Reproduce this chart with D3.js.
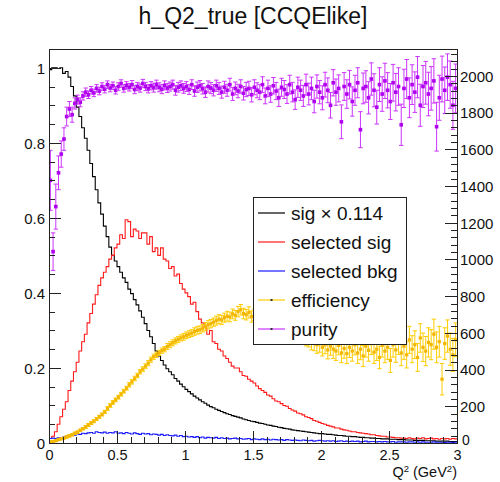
<!DOCTYPE html>
<html><head><meta charset="utf-8">
<script src="https://cdn.jsdelivr.net/npm/d3@7"></script>
<style>
body{margin:0;background:#fff}
svg{display:block}
text{font-family:"Liberation Sans",Arial,Helvetica,sans-serif;fill:#111}
</style>
</head><body>
<svg id="chart" width="500" height="482"></svg>
<script>
// ---------------- data ----------------
const titleText = "h_Q2_true [CCQElike]";
const nBins = 150, qMin = 0, qMax = 3;           // histogram binning in Q^2 (GeV^2)

const sigScaled = [
0.995,1.0,1.0,0.998,1.0,0.985,0.99,0.975,0.95,0.925,
0.895,0.87,0.84,0.812,0.78,0.745,0.71,0.675,0.64,0.61,
0.578,0.55,0.522,0.5,0.485,0.47,0.455,0.44,0.428,0.41,
0.398,0.382,0.368,0.352,0.335,0.318,0.3,0.283,0.265,0.245,
0.232,0.22,0.208,0.198,0.19,0.182,0.172,0.165,0.157,0.15,
0.143,0.137,0.131,0.125,0.12,0.115,0.11,0.106,0.101,0.097,
0.094,0.09,0.087,0.084,0.081,0.078,0.076,0.073,0.071,0.069,
0.067,0.064,0.062,0.06,0.058,0.057,0.055,0.053,0.052,0.05,
0.048,0.047,0.045,0.044,0.042,0.041,0.039,0.038,0.037,0.035,
0.034,0.033,0.032,0.031,0.03,0.029,0.028,0.027,0.026,0.025,
0.025,0.024,0.023,0.023,0.022,0.021,0.02,0.02,0.019,0.018,
0.018,0.017,0.017,0.016,0.015,0.015,0.014,0.014,0.013,0.013,
0.012,0.012,0.011,0.011,0.011,0.01,0.01,0.01,0.009,0.009,
0.009,0.008,0.008,0.008,0.007,0.007,0.007,0.007,0.006,0.006,
0.006,0.006,0.005,0.005,0.005,0.005,0.005,0.004,0.004,0.004];

const selectedSig = [
0.012,0.018,0.03,0.05,0.07,0.09,0.11,0.14,0.165,0.19,
0.215,0.245,0.27,0.29,0.32,0.345,0.37,0.395,0.42,0.44,
0.455,0.47,0.49,0.5,0.52,0.53,0.555,0.545,0.595,0.59,
0.55,0.57,0.565,0.545,0.56,0.56,0.53,0.55,0.51,0.52,
0.5,0.52,0.49,0.485,0.465,0.47,0.445,0.45,0.425,0.41,
0.4,0.39,0.37,0.375,0.35,0.33,0.32,0.31,0.29,0.3,
0.27,0.265,0.25,0.245,0.232,0.225,0.215,0.205,0.2,0.2,
0.19,0.18,0.178,0.17,0.165,0.16,0.152,0.145,0.14,0.135,
0.128,0.125,0.118,0.112,0.11,0.105,0.1,0.098,0.092,0.088,
0.085,0.08,0.078,0.075,0.07,0.068,0.065,0.06,0.058,0.055,
0.052,0.05,0.047,0.045,0.043,0.04,0.04,0.037,0.035,0.034,
0.032,0.03,0.03,0.028,0.027,0.026,0.025,0.024,0.022,0.022,
0.02,0.019,0.018,0.018,0.016,0.016,0.015,0.014,0.014,0.013,
0.013,0.012,0.014,0.012,0.011,0.013,0.012,0.014,0.011,0.012,
0.013,0.011,0.012,0.01,0.012,0.011,0.012,0.01,0.012,0.011];

const selectedBkg = [
0.012,0.013,0.012,0.014,0.013,0.016,0.018,0.02,0.022,0.021,
0.024,0.023,0.026,0.025,0.027,0.028,0.026,0.03,0.028,0.027,
0.029,0.026,0.028,0.027,0.03,0.026,0.027,0.025,0.028,0.026,
0.024,0.027,0.025,0.023,0.026,0.024,0.025,0.022,0.024,0.023,
0.021,0.023,0.02,0.022,0.02,0.019,0.021,0.018,0.02,0.017,
0.018,0.016,0.017,0.015,0.017,0.014,0.016,0.013,0.015,0.014,
0.013,0.015,0.012,0.014,0.012,0.013,0.011,0.012,0.013,0.011,
0.012,0.01,0.011,0.012,0.009,0.011,0.01,0.009,0.011,0.009,
0.01,0.008,0.01,0.009,0.008,0.009,0.007,0.009,0.008,0.007,
0.008,0.007,0.006,0.008,0.007,0.006,0.007,0.005,0.006,0.007,
0.006,0.005,0.006,0.005,0.006,0.004,0.005,0.006,0.004,0.005,
0.004,0.005,0.004,0.005,0.003,0.004,0.005,0.003,0.004,0.004,
0.003,0.004,0.003,0.004,0.003,0.003,0.004,0.002,0.003,0.003,
0.003,0.002,0.003,0.003,0.002,0.003,0.002,0.003,0.002,0.002,
0.002,0.003,0.002,0.002,0.002,0.001,0.002,0.002,0.001,0.002];

const efficiency = [
0.003,0.004,0.006,0.009,0.011,0.013,0.016,0.019,0.022,0.026,
0.029,0.034,0.038,0.043,0.048,0.053,0.058,0.064,0.07,0.076,
0.083,0.092,0.1,0.108,0.115,0.122,0.13,0.138,0.146,0.155,
0.163,0.172,0.18,0.19,0.197,0.205,0.213,0.222,0.23,0.235,
0.24,0.246,0.25,0.257,0.262,0.267,0.272,0.276,0.28,0.283,
0.287,0.29,0.293,0.297,0.3,0.302,0.306,0.31,0.315,0.318,
0.322,0.326,0.33,0.328,0.334,0.338,0.336,0.344,0.34,0.35,
0.355,0.345,0.342,0.348,0.337,0.342,0.333,0.338,0.33,0.332,
0.325,0.33,0.32,0.322,0.315,0.318,0.31,0.305,0.308,0.298,
0.3,0.29,0.292,0.285,0.28,0.278,0.27,0.268,0.262,0.265,
0.255,0.262,0.248,0.258,0.25,0.245,0.26,0.24,0.252,0.238,
0.255,0.245,0.262,0.24,0.25,0.232,0.258,0.247,0.265,0.242,
0.25,0.228,0.26,0.245,0.255,0.22,0.262,0.248,0.27,0.24,
0.258,0.235,0.275,0.25,0.262,0.228,0.28,0.255,0.245,0.268,
0.262,0.29,0.255,0.27,0.17,0.265,0.285,0.25,0.235,0.275];

const efficiencyErr = [
0.002,0.002,0.002,0.002,0.002,0.002,0.003,0.003,0.003,0.003,
0.003,0.003,0.003,0.004,0.004,0.004,0.004,0.004,0.004,0.004,
0.004,0.005,0.005,0.005,0.005,0.005,0.005,0.005,0.005,0.006,
0.006,0.006,0.006,0.006,0.006,0.006,0.007,0.007,0.007,0.007,
0.007,0.007,0.007,0.008,0.008,0.008,0.008,0.008,0.008,0.009,
0.009,0.009,0.009,0.01,0.01,0.01,0.01,0.011,0.011,0.011,
0.011,0.012,0.012,0.012,0.012,0.013,0.013,0.013,0.013,0.014,
0.014,0.014,0.014,0.015,0.015,0.015,0.015,0.016,0.016,0.016,
0.017,0.017,0.017,0.018,0.018,0.018,0.019,0.019,0.019,0.02,
0.02,0.02,0.021,0.021,0.021,0.022,0.022,0.022,0.023,0.023,
0.023,0.024,0.024,0.024,0.025,0.025,0.025,0.026,0.026,0.026,
0.027,0.027,0.027,0.028,0.028,0.028,0.029,0.029,0.029,0.03,
0.03,0.03,0.031,0.031,0.032,0.032,0.033,0.033,0.034,0.034,
0.035,0.035,0.036,0.036,0.037,0.037,0.038,0.038,0.039,0.039,
0.04,0.04,0.041,0.041,0.042,0.042,0.043,0.043,0.044,0.045];

const purity = [
0.70,0.51,0.63,0.72,0.77,0.81,0.87,0.89,0.875,0.905,
0.915,0.908,0.925,0.935,0.928,0.94,0.933,0.945,0.938,0.95,
0.943,0.955,0.946,0.952,0.94,0.95,0.958,0.945,0.953,0.948,
0.955,0.942,0.95,0.946,0.958,0.95,0.944,0.952,0.947,0.955,
0.948,0.943,0.953,0.946,0.95,0.955,0.94,0.948,0.952,0.945,
0.95,0.942,0.955,0.938,0.948,0.952,0.944,0.935,0.95,0.946,
0.94,0.952,0.945,0.935,0.948,0.94,0.955,0.93,0.945,0.938,
0.95,0.932,0.942,0.945,0.928,0.948,0.94,0.935,0.955,0.925,
0.945,0.93,0.952,0.938,0.92,0.948,0.942,0.93,0.955,0.935,
0.915,0.948,0.94,0.925,0.955,0.93,0.945,0.91,0.95,0.935,
0.92,0.955,0.94,0.9,0.96,0.935,0.945,0.856,0.95,0.93,
0.955,0.91,0.94,0.96,0.835,0.945,0.95,0.92,0.97,0.94,
0.895,0.955,0.93,0.965,0.94,0.91,0.96,0.935,0.95,0.848,
0.945,0.97,0.92,0.955,0.935,0.975,0.9,0.95,0.96,0.93,
0.945,0.965,0.843,0.92,0.97,0.94,0.975,0.955,0.9,0.945];

const purityErr = [
0.08,0.05,0.06,0.045,0.035,0.03,0.025,0.02,0.02,0.015,
0.012,0.012,0.011,0.011,0.01,0.01,0.01,0.01,0.01,0.01,
0.01,0.01,0.01,0.01,0.01,0.01,0.01,0.01,0.01,0.01,
0.011,0.011,0.011,0.011,0.011,0.011,0.011,0.011,0.012,0.012,
0.012,0.012,0.012,0.012,0.012,0.012,0.013,0.013,0.013,0.013,
0.013,0.013,0.013,0.014,0.014,0.014,0.014,0.014,0.015,0.015,
0.015,0.015,0.016,0.016,0.016,0.016,0.017,0.017,0.017,0.018,
0.018,0.018,0.019,0.019,0.019,0.02,0.02,0.02,0.021,0.021,
0.022,0.022,0.022,0.023,0.023,0.024,0.024,0.025,0.025,0.026,
0.026,0.027,0.027,0.028,0.028,0.029,0.03,0.03,0.031,0.031,
0.032,0.033,0.033,0.034,0.035,0.035,0.036,0.045,0.037,0.038,
0.038,0.039,0.04,0.04,0.048,0.041,0.042,0.043,0.043,0.044,
0.045,0.045,0.046,0.047,0.047,0.048,0.049,0.05,0.05,0.055,
0.051,0.052,0.053,0.053,0.054,0.055,0.056,0.056,0.057,0.058,
0.058,0.059,0.065,0.06,0.061,0.062,0.062,0.063,0.064,0.065];

const xMajorTicks = [0,0.5,1,1.5,2,2.5,3];
const xTickLabels = ["0","0.5","1","1.5","2","2.5","3"];
const yLeftTicks = [0,0.2,0.4,0.6,0.8,1];
const yLeftLabels = ["0","0.2","0.4","0.6","0.8","1"];
const yRightTicks = [0,200,400,600,800,1000,1200,1400,1600,1800,2000];
const yRightLabels = ["0","200","400","600","800","1000","1200","1400","1600","1800","2000"];
const legendLabels = ["sig \u00d7 0.114","selected sig","selected bkg","efficiency","purity"];
const seriesColors = ["#000000","#ff1a1a","#1a1aff","#ffcc00","#cc33ff"];
const markerColors = {eff:"#f2b600", pur:"#b000f0"};

// ---------------- drawing ----------------
const svg = d3.select("#chart");
const W = 500, H = 482;
const frame = {l:49, r:457, t:49, b:443};
const x = d3.scaleLinear().domain([qMin,qMax]).range([frame.l,frame.r]);
const yL = d3.scaleLinear().domain([0,1.05]).range([frame.b,frame.t]);
const yR = d3.scaleLinear().domain([0,2147]).range([frame.b,frame.t]);
const bw = (qMax-qMin)/nBins;
const binLow = d3.range(nBins).map(i => qMin + i*bw);

svg.append("rect").attr("width",W).attr("height",H).attr("fill","#fff");

// title
svg.append("text").attr("x",253).attr("y",24).attr("text-anchor","middle")
  .style("font-size","23px").text(titleText);

const plot = svg.append("g");
const clipId = "clipF";
svg.append("clipPath").attr("id",clipId).append("rect")
  .attr("x",frame.l).attr("y",frame.t).attr("width",frame.r-frame.l).attr("height",frame.b-frame.t);
plot.attr("clip-path","url(#"+clipId+")");

function stepPath(vals){
  const pts = [];
  vals.forEach((v,i)=>{ pts.push([binLow[i],v]); pts.push([binLow[i]+bw,v]); });
  return d3.line().x(d=>x(d[0])).y(d=>yL(d[1]))(pts);
}
[[sigScaled,0],[selectedSig,1],[selectedBkg,2]].forEach(([vals,ci])=>{
  plot.append("path").attr("d",stepPath(vals)).attr("fill","none")
    .attr("stroke",seriesColors[ci]).attr("stroke-width",1.1);
});

function errPoints(vals, errs, color, mcolor, msize){
  const g = plot.append("g");
  vals.forEach((v,i)=>{
    const cx = x(binLow[i]+bw/2), e = errs[i];
    const y0 = yL(v-e), y1 = yL(v+e), yc = yL(v);
    g.append("line").attr("x1",cx).attr("x2",cx).attr("y1",y0).attr("y2",y1)
      .attr("stroke",color).attr("stroke-width",1);
    [y0,y1].forEach(yy=>g.append("line").attr("x1",cx-2.2).attr("x2",cx+2.2)
      .attr("y1",yy).attr("y2",yy).attr("stroke",color).attr("stroke-width",1));
    g.append("line").attr("x1",x(binLow[i])).attr("x2",x(binLow[i]+bw)).attr("y1",yc).attr("y2",yc)
      .attr("stroke",color).attr("stroke-width",1);
    g.append("rect").attr("x",cx-msize/2).attr("y",yc-msize/2).attr("width",msize).attr("height",msize)
      .attr("fill",mcolor);
  });
}
errPoints(efficiency, efficiencyErr, seriesColors[3], markerColors.eff, 3.2);
errPoints(purity, purityErr, seriesColors[4], markerColors.pur, 3.6);

// axes
const axG = svg.append("g").attr("shape-rendering","crispEdges");
function styleAxis(g){ g.select(".domain").remove(); g.selectAll("line").attr("stroke","#222"); g.selectAll("text").style("font-size","15px").attr("fill","#111"); }

const xMinor = d3.range(0,3.0001,0.1);
axG.append("g").attr("transform",`translate(0,${frame.b})`)
  .call(d3.axisBottom(x).tickValues(xMinor).tickSize(-6).tickFormat(""))
  .call(styleAxis);
const gx = axG.append("g").attr("transform",`translate(0,${frame.b})`)
  .call(d3.axisBottom(x).tickValues(xMajorTicks).tickSize(-12).tickFormat((d,i)=>xTickLabels[i]))
  .call(styleAxis);
gx.selectAll("text").attr("y",17).attr("dy",0).style("font-size","14.5px");

const yMinor = d3.range(0,1.0501,0.05);
axG.append("g").attr("transform",`translate(${frame.l},0)`)
  .call(d3.axisLeft(yL).tickValues(yMinor).tickSize(-6).tickFormat(""))
  .call(styleAxis);
const gyl = axG.append("g").attr("transform",`translate(${frame.l},0)`)
  .call(d3.axisLeft(yL).tickValues(yLeftTicks).tickSize(-12).tickFormat((d,i)=>yLeftLabels[i]))
  .call(styleAxis);
gyl.selectAll("text").attr("x",-4).attr("dy","0.35em");

const yRMinor = d3.range(0,2147,40);
axG.append("g").attr("transform",`translate(${frame.r},0)`)
  .call(d3.axisRight(yR).tickValues(yRMinor).tickSize(-6).tickFormat(""))
  .call(styleAxis);
const gyr = axG.append("g").attr("transform",`translate(${frame.r},0)`)
  .call(d3.axisRight(yR).tickValues(yRightTicks).tickSize(-12).tickFormat((d,i)=>yRightLabels[i]))
  .call(styleAxis);
gyr.selectAll("text").attr("x",3).attr("dy","0.35em");
// the "0" label sits just above the corner, next to the x-axis "3"
gyr.selectAll("text").filter(d=>d===0).attr("x",5).attr("dy","0.1em").style("font-size","14px");

// frame
axG.append("rect").attr("x",frame.l).attr("y",frame.t).attr("width",frame.r-frame.l)
  .attr("height",frame.b-frame.t).attr("fill","none").attr("stroke","#222").attr("stroke-width",1);

// x title
const xt = svg.append("text").attr("x",frame.r).attr("y",477).attr("text-anchor","end").style("font-size","14.5px");
xt.append("tspan").text("Q");
xt.append("tspan").attr("dy",-5).style("font-size","9.5px").text("2");
xt.append("tspan").attr("dy",5).text(" (GeV");
xt.append("tspan").attr("dy",-5).style("font-size","9.5px").text("2");
xt.append("tspan").attr("dy",5).text(")");

// legend
const lg = svg.append("g");
lg.append("rect").attr("x",253).attr("y",197).attr("width",153).attr("height",147)
  .attr("fill","#fff").attr("stroke","#222").attr("stroke-width",1).attr("shape-rendering","crispEdges");
legendLabels.forEach((lab,i)=>{
  const yy = 213 + i*29;
  lg.append("line").attr("x1",258).attr("x2",285).attr("y1",yy).attr("y2",yy)
    .attr("stroke",seriesColors[i]).attr("stroke-width",1.2);
  if(i>=3){
    lg.append("rect").attr("x",270.5).attr("y",yy-1).attr("width",2).attr("height",2).attr("fill","#333");
  }
  lg.append("text").attr("x",291).attr("y",yy).attr("dy","0.35em").style("font-size","19px").text(lab);
});
</script>
</body></html>
